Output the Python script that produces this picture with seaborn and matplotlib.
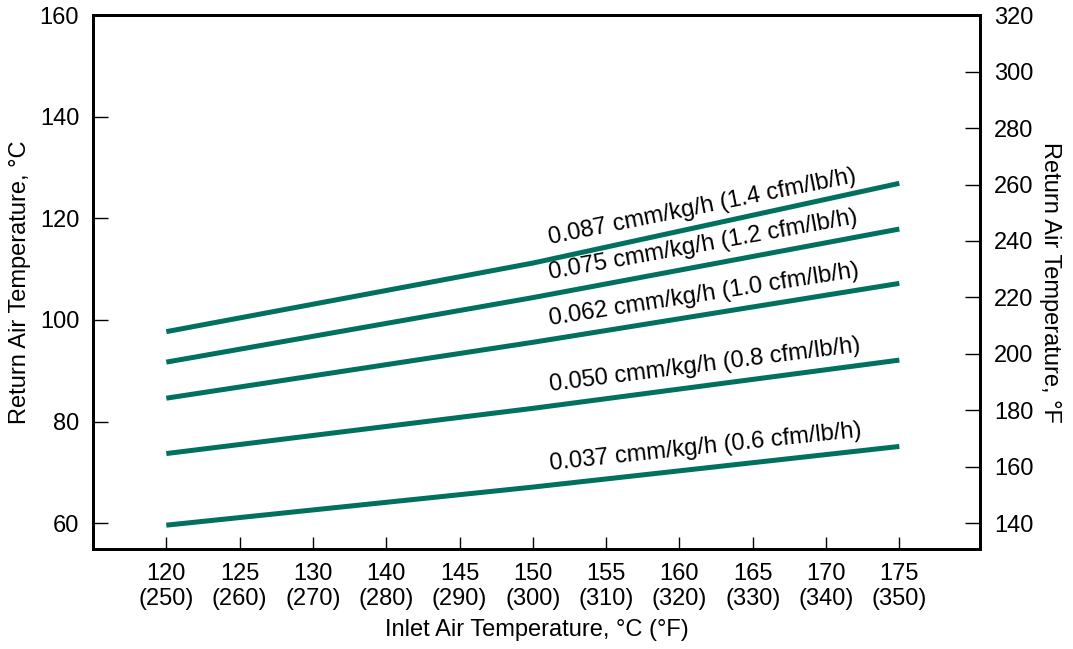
import matplotlib
matplotlib.use("Agg")
import matplotlib.pyplot as plt
from matplotlib import font_manager
import seaborn as sns
import pandas as pd
import numpy as np

sns.set_theme(style="white")
names = {f.name for f in font_manager.fontManager.ttflist}
fam = "Liberation Sans Narrow" if "Liberation Sans Narrow" in names else "Liberation Sans"
plt.rcParams['font.family'] = [fam, 'DejaVu Sans']
plt.rcParams['text.color'] = 'black'
plt.rcParams['axes.labelcolor'] = 'black'
plt.rcParams['xtick.color'] = 'black'
plt.rcParams['ytick.color'] = 'black'

# Data (x in °F, y in °C)
inlet_f = [250, 300, 350]
tick_f = [250, 260, 270, 280, 290, 300, 310, 320, 330, 340, 350]
tick_c = [120, 125, 130, 140, 145, 150, 155, 160, 165, 170, 175]
series_labels = ["0.087 cmm/kg/h (1.4 cfm/lb/h)",
                 "0.075 cmm/kg/h (1.2 cfm/lb/h)",
                 "0.062 cmm/kg/h (1.0 cfm/lb/h)",
                 "0.050 cmm/kg/h (0.8 cfm/lb/h)",
                 "0.037 cmm/kg/h (0.6 cfm/lb/h)"]
ret_087 = [97.7, 111.2, 126.9]
ret_075 = [91.7, 104.4, 117.9]
ret_062 = [84.6, 95.6, 107.2]
ret_050 = [73.7, 82.6, 92.1]
ret_037 = [59.6, 67.1, 75.1]
all_vals = [ret_087, ret_075, ret_062, ret_050, ret_037]

rows = []
for lab, vals in zip(series_labels, all_vals):
    for x, y in zip(inlet_f, vals):
        rows.append({"inlet": x, "ret": y, "series": lab})
df = pd.DataFrame(rows)

color = "#00705F"
fig = plt.figure(figsize=(10.73, 6.49), dpi=100)
ax = fig.add_axes([0.0867, 0.154, 0.8266, 0.823])
sns.lineplot(data=df, x="inlet", y="ret", hue="series",
             palette=[color] * 5, linewidth=3.6, legend=False, ax=ax,
             estimator=None, sort=True)
for l in ax.lines:
    l.set_solid_capstyle("butt")

ax.set_xlim(240, 361)
ax.set_ylim(54.9, 160.05)
ax.set_xticks(tick_f)
ax.set_xticklabels([f"{c}\n({f})" for c, f in zip(tick_c, tick_f)], fontsize=17,
                   linespacing=1.2)
ax.set_yticks([60, 80, 100, 120, 140, 160])
ax.tick_params(axis="y", direction="in", length=11, width=1, labelsize=17, pad=10,
               left=True)
ax.tick_params(axis="x", direction="in", length=9, width=1, labelsize=17, pad=10,
               bottom=True)
ax.set_xlabel("Inlet Air Temperature, °C (°F)", fontsize=17, labelpad=6)
ax.set_ylabel("Return Air Temperature, °C", fontsize=17, labelpad=6)
for s in ax.spines.values():
    s.set_linewidth(2)
    s.set_color("black")

ax2 = ax.twinx()
lo, hi = ax.get_ylim()
ax2.set_ylim(lo * 1.8 + 32, hi * 1.8 + 32)
ax2.set_yticks(list(range(140, 321, 20)))
ax2.tick_params(axis="y", direction="in", length=11, width=1, labelsize=17, pad=10,
                right=True)
ax2.set_ylabel("Return Air Temperature, °F", fontsize=17, rotation=270, labelpad=20)
for s in ax2.spines.values():
    s.set_linewidth(2)
    s.set_color("black")
ax2.grid(False)
ax.grid(False)

# Rotated labels along lines
fig.canvas.draw()
lab_x = 302.5
for lab, vals in zip(series_labels, all_vals):
    y_at = np.interp(lab_x, inlet_f, vals)
    p0 = ax.transData.transform((inlet_f[0], vals[0]))
    p1 = ax.transData.transform((inlet_f[-1], vals[-1]))
    ang = np.degrees(np.arctan2(p1[1] - p0[1], p1[0] - p0[0]))
    ax.annotate(lab, xy=(lab_x, y_at), xytext=(0, 7), textcoords="offset points",
                rotation=ang, rotation_mode="anchor", ha="left", va="bottom",
                fontsize=17, color="black")

fig.savefig("out.png", dpi=100)
